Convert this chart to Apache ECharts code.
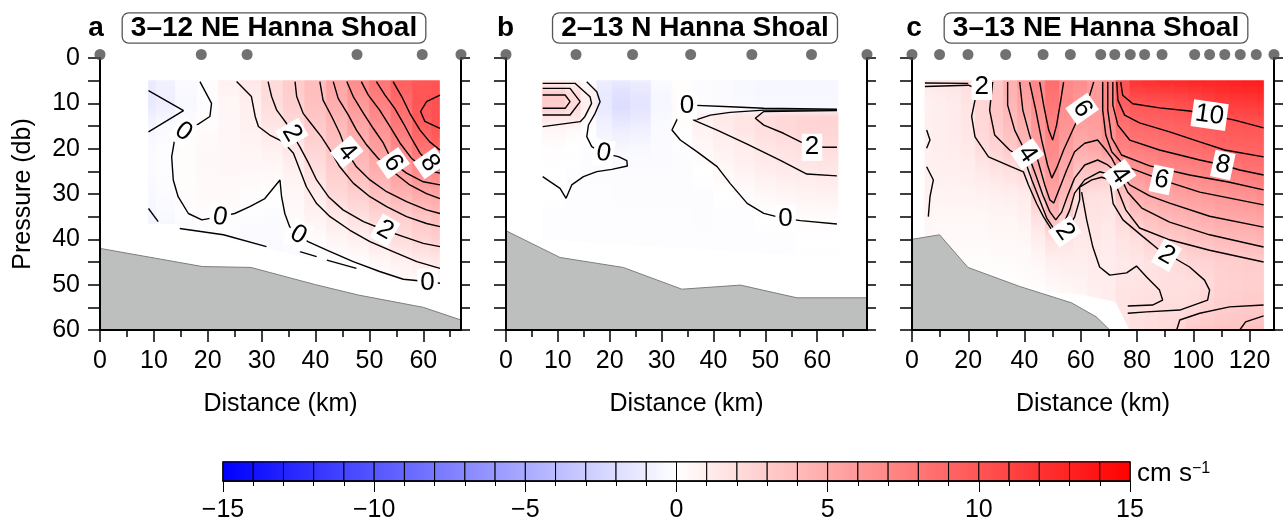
<!DOCTYPE html>
<html><head><meta charset="utf-8">
<script src="https://cdn.jsdelivr.net/npm/echarts@6/dist/echarts.min.js"></script>
<style>html,body{margin:0;padding:0;background:#fff}#c{width:1287px;height:523px}</style>
</head><body><div id="c"></div>
<script>
const FONT = '"Liberation Sans", Arial, Helvetica, sans-serif';

// ---------- panel titles ----------
const panelLetters = ['a', 'b', 'c'];
const panelTitles = ['3\u201312 NE Hanna Shoal', '2\u201313 N Hanna Shoal', '3\u201313 NE Hanna Shoal'];
const xMax = [67, 69.6, 128.7];
const xMajorTicksAB = [0, 10, 20, 30, 40, 50, 60];
const xMajorTicksC = [0, 20, 40, 60, 80, 100, 120];

// ---------- stations (km) ----------
const stationsA = [0, 18.8, 27.3, 47.7, 59.8, 67];
const stationsB = [0, 13.5, 24.4, 35.6, 47.4, 58.9, 69.6];
const stationsC = [0, 9.8, 19.9, 33.3, 46.6, 56.3, 67.1, 72.1, 77.6, 82.7, 88.9, 100.5, 105.8, 111.2, 116.7, 122.4, 128.7];

// ---------- bottom (km, db) ----------
const bathyA = [[0,42],[19,46],[28,46.2],[40,50],[48,52.3],[60,55],[67,57.8]];
const bathyB = [[0,38.1],[10.4,44],[22.6,46.2],[33.9,51],[45.2,50.1],[56.1,52.9],[69.6,52.9]];
const bathyC = [[0,40],[9.8,39],[19.9,46.2],[38.3,50.4],[56.7,54],[65.5,57.1],[70.3,60]];

// ---------- velocity field (cm/s), one row per column ----------
const fieldColsA = [9,12,16,20,24,28,32,36,40,44,48,52,56,60,63];
const fieldDepthsA = [5,10,15,20,25,30,35,40,45,50];
const fieldA = [
 [-1.2,-1.3,-0.6,-0.3,-0.3,-0.4,-0.6,-0.8,-0.8,-0.8],
 [-0.8,-1.0,-0.3,-0.1,-0.1,-0.2,-0.4,-0.7,-0.7,-0.7],
 [-0.3,-0.5,-0.1,0.2,0.2,0.2,-0.1,-0.5,-0.5,-0.5],
 [0.2,-0.1,0.2,0.4,0.4,0.3,0.1,-0.3,-0.4,-0.4],
 [0.8,0.5,0.5,0.5,0.5,0.3,0.1,-0.2,-0.4,-0.4],
 [1.4,0.95,0.8,0.6,0.4,0.2,-0.1,-0.3,-0.4,-0.4],
 [2.1,2.0,1.5,0.8,0.4,0.0,-0.2,-0.3,-0.4,-0.4],
 [3.0,2.8,2.2,1.4,0.8,0.5,0.3,-0.1,-0.3,-0.3],
 [3.8,3.7,3.1,2.5,1.8,1.2,0.7,0.2,-0.2,-0.3],
 [5.3,4.8,4.0,3.5,2.8,2.3,1.3,0.6,-0.1,-0.2],
 [6.8,6.0,5.2,4.5,3.9,2.8,1.8,0.9,0.1,-0.1],
 [8.2,7.4,6.4,5.6,4.7,3.7,2.4,1.5,0.5,-0.1],
 [9.4,8.7,7.8,6.8,5.7,4.5,2.9,2.0,0.8,0.1],
 [9.9,10.0,9.4,8.2,6.8,5.0,3.4,2.5,1.1,0.1],
 [10.0,10.3,10.2,9.0,7.4,5.3,3.8,2.8,1.3,0.3]
];
const fieldBottomA = [[9,36.5],[14.8,36.5],[14.8,37.2],[63,51.2]];

const fieldColsB = [7,10,13,16,19,22,26,30,34,38,42,46,50,54,58,62,64];
const fieldDepthsB = [5,8,11,13,16,20,25,30,35,40,45];
const fieldB = [
 [0.9,3.1,3.0,1.6,0.4,0.1,0,0,-0.1,-0.1,-0.1],
 [0.9,3.0,2.9,1.5,0.5,0.1,0,0,-0.1,-0.1,-0.1],
 [0.8,2.1,2.2,1.5,0.3,0,-0.1,-0.1,-0.1,-0.1,-0.1],
 [-0.1,0.8,0.9,0.4,0,-0.1,-0.2,-0.1,-0.1,-0.1,-0.1],
 [-1.0,-1.3,-1.3,-1.0,-0.7,-0.4,-0.2,-0.1,-0.1,-0.1,-0.1],
 [-1.3,-1.8,-2.0,-1.6,-1.0,-0.5,-0.2,-0.2,-0.1,-0.1,-0.1],
 [-1.0,-1.5,-1.6,-1.3,-0.8,-0.4,-0.2,-0.2,-0.1,-0.1,-0.1],
 [-0.3,-0.5,-0.5,-0.4,-0.3,-0.3,-0.2,-0.2,-0.1,-0.1,-0.1],
 [0.1,0.2,0.3,0.2,0.1,-0.1,-0.2,-0.2,-0.1,-0.1,-0.1],
 [-0.2,-0.2,-0.1,0.9,0.7,0.4,0,-0.2,-0.2,-0.1,-0.1],
 [-0.3,-0.3,-0.2,1.3,1.1,0.8,0.4,0,-0.1,-0.1,-0.1],
 [-0.4,-0.4,-0.3,1.6,1.5,1.1,0.7,0.2,-0.1,-0.1,-0.1],
 [-0.5,-0.5,-0.4,2.0,1.9,1.5,1.0,0.4,0,-0.1,-0.1],
 [-0.5,-0.5,-0.4,2.3,2.2,1.7,1.2,0.6,0.1,-0.1,-0.1],
 [-0.5,-0.5,-0.4,2.5,2.4,1.9,1.3,0.7,0.2,0,-0.1],
 [-0.5,-0.5,-0.4,2.6,2.5,2.0,1.4,0.8,0.2,0,-0.1],
 [-0.5,-0.5,-0.4,2.6,2.5,2.0,1.4,0.8,0.2,0,-0.1]
];
const fieldBottomB = [[7,40],[64,44]];

const fieldColsC = [4.6,10,15,20,25,30,35,40,45,50,55,60,65,70,75,80,85,90,95,100,105,110,115,120,125];
const fieldDepthsC = [5,10,15,20,25,30,35,40,45,50,55,60];
const fieldC = [
 [1.3,0.8,0.9,0.8,0.9,0.8,0.6,0.4,0.2,0.1,0,0],
 [1.5,1.0,1.0,1.0,0.9,0.7,0.5,0.3,0.2,0.1,0,0],
 [1.6,1.2,1.2,1.1,0.9,0.7,0.5,0.3,0.2,0.1,0,0],
 [1.9,1.6,1.5,1.3,1.0,0.7,0.5,0.3,0.2,0.1,0,0],
 [2.5,2.4,2.3,2.0,1.3,0.8,0.5,0.3,0.2,0.1,0,0],
 [3.3,3.3,3.1,2.5,1.6,0.9,0.6,0.4,0.2,0.1,0,0],
 [4.6,4.3,3.8,3.1,1.8,1.0,0.6,0.4,0.2,0.1,0,0],
 [5.9,5.3,4.6,4.1,2.2,1.2,0.8,0.5,0.3,0.1,0,0],
 [7.0,6.6,6.1,5.5,4.8,3.4,1.8,1.0,0.5,0.2,0.1,0],
 [8.6,8.0,7.4,6.9,6.2,5.3,4.0,1.8,0.9,0.4,0.2,0],
 [7.0,6.8,6.3,5.7,4.9,4.1,2.8,1.6,1.0,0.6,0.3,0.1],
 [6.7,6.2,5.6,4.8,3.5,2.1,1.6,1.3,1.0,0.7,0.4,0.2],
 [5.9,6.0,5.7,5.2,3.5,1.8,1.6,1.4,1.2,1.0,0.8,0.5],
 [7.0,7.0,6.6,6.0,3.2,1.8,1.4,1.2,1.1,1.1,1.0,0.8],
 [10.3,9.4,8.3,7.3,5.5,3.6,2.3,1.6,1.3,1.6,1.6,1.5],
 [12.0,10.0,8.8,7.7,6.1,4.8,3.4,1.9,1.5,1.6,1.8,1.8],
 [12.3,10.1,9.0,7.9,6.5,5.1,3.8,2.6,1.7,1.7,1.9,2.0],
 [12.5,10.2,9.2,8.2,7.0,5.4,4.2,3.0,2.0,1.8,2.0,2.2],
 [12.6,10.4,9.3,8.4,7.0,5.6,4.4,3.2,2.1,1.8,2.0,2.5],
 [12.8,10.6,9.5,8.6,7.1,5.8,4.6,3.5,2.4,1.9,2.1,3.2],
 [12.9,11.0,9.6,8.8,7.4,6.0,4.8,3.7,2.6,2.1,2.6,3.3],
 [13.0,11.4,9.8,9.0,7.7,6.2,5.1,4.0,2.8,2.6,2.9,3.4],
 [13.2,11.5,9.9,9.1,7.9,6.4,5.2,4.1,2.9,2.7,3.0,3.5],
 [13.3,11.6,10.0,9.2,8.1,6.5,5.3,4.2,3.0,2.8,3.1,3.6],
 [13.4,11.8,10.0,9.3,8.2,6.8,5.5,4.4,3.0,2.8,3.1,3.7]
];
const fieldBottomC = [[4.6,50],[60,52],[74,54],[76.2,54.5],[77.5,60],[128,60]];

// ---------- contour lines (km, db) ----------
const contoursA = [
 [[9,7.2],[15.5,11.6],[9,16.3]],
 [[18.55,5.2],[20.7,10.0],[20.4,12.9],[17.6,15.1],[15.5,16.25],[13.9,17.7],[13.3,21.8],[13.6,26.9],[14.5,30.6],[16.4,34.3],[18.9,35.7],[22.3,35.0],[25.0,34.3],[27.8,32.8],[30.6,31.0],[33.4,26.9],[33.7,30.6],[34.3,34.3],[35.2,37.2],[36.8,39.0],[38.6,40.5],[42.1,42.4],[47.0,44.9],[51.9,47.1],[56.3,48.8],[60.6,49.3],[63.1,49.7]],
 [[9,33.2],[10.8,36.1]],
 [[14.8,37.6],[22.9,39.0],[30.9,41.6]],
 [[37.1,42.7],[40.2,43.8]],
 [[42.1,44.6],[47.6,46.4]],
 [[25.35,5.2],[28.1,8.5],[28.8,12.9],[29.4,15.1],[31.5,17.0],[34.0,18.5],[35.9,21.0],[37.1,24.7],[38.3,28.4],[40.2,32.1],[42.7,35.0],[46.4,38.0],[50.1,40.5],[54.4,42.7],[58.8,44.9],[63.1,46.4]],
 [[31.2,5.2],[31.85,8.5],[32.8,11.5],[34.6,14.4],[35.6,16.6],[37.1,19.6],[38.7,23.2],[40.2,26.9],[42.4,30.6],[45.1,33.5],[48.9,36.1],[52.9,38.0],[56.3,39.4],[60.0,40.9],[63.1,41.6]],
 [[36.2,5.2],[36.5,8.5],[37.7,12.2],[39.6,15.1],[41.1,17.4],[42.7,20.3],[44.5,24.0],[47.0,27.6],[50.1,30.6],[53.2,32.8],[56.9,35.0],[60.6,36.5],[63.1,37.2]],
 [[40.8,5.2],[41.4,9.3],[43.0,12.9],[44.5,16.6],[45.8,20.7],[47.6,24.0],[50.1,26.9],[53.2,29.5],[56.9,31.7],[60.6,33.5],[63.1,34.3]],
 [[43.3,5.2],[44.2,8.9],[46.1,12.6],[47.6,15.9],[49.5,19.2],[51.6,22.1],[54.4,25.1],[57.5,28.0],[60.6,29.9],[63.1,31.0]],
 [[45.8,5.2],[47.0,8.5],[48.9,12.2],[50.7,15.5],[52.6,18.8],[54.4,23.2],[56.9,25.4],[60.0,27.3],[63.1,28.0]],
 [[48.5,5.2],[49.8,8.2],[51.9,11.5],[53.8,15.1],[55.7,18.8],[57.8,22.1],[60.6,24.7],[63.1,25.4]],
 [[51.3,5.2],[52.9,8.2],[54.7,11.1],[56.3,14.4],[57.8,17.7],[59.4,21.0],[61.2,23.2],[63.1,24.0]],
 [[54.4,5.2],[56.0,8.5],[57.5,12.2],[59.4,15.9],[61.2,18.5],[63.1,20.3]],
 [[63.1,8.2],[60.6,9.6],[59.5,11.8],[60.3,14.0],[63.1,15.5]]
];
const contoursB = [
 [[7.07,8.16],[11.4,8.16],[12.35,9.63],[11.4,11.1],[7.07,11.1]],
 [[7.07,6.69],[12.35,6.69],[14.3,9.63],[12.35,12.57],[7.07,12.57]],
 [[7.07,5.59],[13.3,5.59],[16.2,8.53],[16.5,10.0],[15.2,12.94],[14.3,14.04],[7.07,15.15]],
 [[15.57,5.22],[17.5,7.43],[18.14,9.63],[17.18,12.2],[15.9,14.78],[15.57,17.35],[16.53,19.56],[18.79,21.03],[21.68,21.76],[23.29,22.65],[23.4,23.82],[20.4,24.56],[17.5,25.07],[14.93,26.18],[12.67,28.0],[11.58,30.96],[10.42,28.75],[8.49,27.28],[7.07,26.18]],
 [[35.5,10.4],[43.2,10.74],[49.7,11.1],[63.8,11.32]],
 [[33.8,11.6],[32.0,15.88],[33.6,18.09],[36.8,20.66],[40.7,23.97],[43.2,27.65],[46.5,32.06],[49.7,34.26],[53.5,35.37],[56.8,35.88],[63.8,36.62]],
 [[35.6,11.8],[36.5,13.7],[39.4,12.6],[43.2,12.0],[49.7,11.5],[63.8,11.5]],
 [[35.8,12.6],[36.2,13.7],[40.7,15.9],[46.5,19.0],[52.9,22.6],[58.0,25.6],[63.8,26.0]],
 [[63.8,11.6],[49.7,11.8],[48.07,13.3],[49.7,14.8],[53.5,16.6],[56.8,18.5],[58.7,19.4],[61.3,19.7],[63.8,19.7]]
];
const contoursC = [
 [[4.6,5.5],[20.0,5.6]],
 [[4.6,6.3],[20.0,6.0],[22.4,6.6]],
 [[5.2,15.9],[6.4,18.1],[5.2,19.9]],
 [[5.2,24.0],[7.6,26.9],[6.4,30.6],[5.8,35.0]],
 [[22.4,7.0],[22.4,9.3],[21.2,12.9],[22.4,17.4],[27.2,21.8],[35.4,24.0],[39.6,25.1],[41.4,28.0],[44.3,32.1],[46.7,35.0],[49.7,37.9],[51.4,39.8],[53.2,39.9],[55.4,37.5],[57.8,35.1],[59.6,31.3],[59.6,28.5],[63.9,26.9],[67.4,26.3],[70.3,26.9],[71.5,32.1],[75.0,35.7],[82.1,39.4],[88.0,42.4],[90.5,43.5],[92.6,43.9],[98.7,46.1],[104.0,49.0],[105.8,51.2],[105.1,53.4],[95.2,55.6],[83.4,56.0],[76.7,56.3]],
 [[60.3,29.6],[62.1,35.7],[64.3,41.7],[66.7,46.1],[70.3,47.9],[76.3,47.4],[79.8,45.9],[83.4,48.3],[88.0,51.2],[89.1,53.4],[85.5,54.5],[76.7,54.7]],
 [[28.7,5.3],[27.6,11.5],[29.4,17.0],[34.7,20.3],[40.1,22.5],[42.6,26.9],[45.4,31.3],[47.9,35.3],[50.7,37.9],[53.2,37.5],[56.1,33.5],[57.8,29.8],[61.4,26.9],[66.7,25.1],[71.0,25.8],[73.2,29.1],[76.0,33.5],[80.9,37.5],[91.6,40.1],[105.8,42.4],[125,45.0]],
 [[34.0,5.3],[34.0,10.4],[36.5,15.9],[39.7,19.9],[41.8,22.1],[44.0,25.8],[46.5,30.2],[49.0,33.9],[51.1,35.7],[53.2,34.0],[55.4,30.2],[57.8,26.5],[61.4,23.6],[66.0,22.5],[69.6,23.6],[73.8,25.8],[76.7,29.6],[81.7,33.1],[91.6,36.2],[105.8,39.0],[125,41.7]],
 [[38.3,5.3],[39.4,11.5],[41.8,17.0],[44.7,22.5],[47.2,28.0],[49.0,31.3],[50.4,32.0],[52.5,28.7],[55.0,24.7],[57.8,20.7],[61.4,18.8],[66.0,18.1],[68.9,20.3],[71.0,22.1],[73.2,24.7],[77.4,28.0],[84.5,30.4],[91.6,32.0],[105.8,34.9],[125,37.3]],
 [[41.8,5.3],[44.0,11.5],[46.1,18.1],[48.2,23.6],[49.7,26.5],[51.4,24.3],[53.9,20.3],[57.5,15.4],[60.7,11.0],[63.2,8.2],[64.6,5.3]],
 [[67.8,5.3],[67.8,11.5],[68.9,17.0],[71.0,20.7],[75.6,23.8],[88.7,26.9],[102.3,29.6],[125,32.4]],
 [[45.4,5.3],[46.8,10.4],[48.6,15.9],[50.0,18.1],[51.4,14.8],[52.9,9.3],[53.9,5.3]],
 [[69.6,5.3],[69.6,11.5],[71.0,17.6],[74.5,21.4],[84.5,23.8],[98.7,25.8],[112.9,27.4],[125,29.1]],
 [[71.4,5.3],[71.4,10.4],[73.2,14.8],[77.4,18.1],[88.0,20.3],[102.3,22.5],[110.5,23.6],[116.5,24.7],[125,25.8]],
 [[72.8,5.3],[73.2,9.3],[75.6,12.6],[80.9,14.3],[91.6,16.3],[102.3,18.5],[111.2,20.3],[125,21.8]],
 [[74.2,5.3],[74.9,8.2],[78.5,10.1],[88.0,11.0],[98.7,11.7],[105.8,12.6],[114.7,13.7],[125,15.4]],
 [[94.1,60],[95.2,57.8],[102.3,56.3],[112.9,54.9],[125,54.5]],
 [[116.5,60],[118.6,58.2],[125,56.9]]
];

// ---------- contour labels: [km, db, angle in degrees] ----------
const labelPosA = [[15.5,16.3,-35],[22.3,35.1,-10],[36.8,39.0,-30],[60.8,49.5,0],[35.6,16.6,-60],[52.9,38.0,-30],[45.8,20.7,-50],[54.4,23.2,-55],[61.2,23.2,-55]];
const labelTextA = ['0','0','0','0','2','2','4','6','8'];
const labelPosB = [[34.9,10.6,0],[18.8,21.0,-10],[53.9,35.4,0],[59.0,19.7,0]];
const labelTextB = ['0','0','0','2'];
const labelPosC = [[24.8,6.3,0],[41.0,21.2,-55],[60.5,11.2,-55],[54.3,38.3,-55],[73.8,25.8,-55],[88.7,26.9,-12],[110.5,23.6,-12],[105.8,12.6,-8],[90.5,43.5,-30]];
const labelTextC = ['2','4','6','2','4','6','8','10','2'];

// ---------- colour bar ----------
const colorbarEdges = [-15,-14,-13,-12,-11,-10,-9,-8,-7,-6,-5,-4,-3,-2,-1,0,1,2,3,4,5,6,7,8,9,10,11,12,13,14,15];

function colorFor(v) {
  const t = Math.max(-1, Math.min(1, v / 15));
  if (t >= 0) { const g = Math.round(255 * (1 - t)); return 'rgb(255,' + g + ',' + g + ')'; }
  const g = Math.round(255 * (1 + t)); return 'rgb(' + g + ',' + g + ',255)';
}
function bottomAt(b, x) {
  if (x <= b[0][0]) return b[0][1];
  for (let k = 0; k < b.length - 1; k++) {
    const a = b[k], c = b[k + 1];
    if (c[0] > a[0] && x >= a[0] && x <= c[0]) return a[1] + (c[1] - a[1]) * (x - a[0]) / (c[0] - a[0]);
  }
  return b[b.length - 1][1];
}
function fieldSeries(gi, cols, depths, vals, bottom) {
  return {
    type: 'custom', xAxisIndex: gi, yAxisIndex: gi, z: 1, silent: true, clip: true,
    data: cols.map(x => [x, depths[0]]),
    renderItem(params, api) {
      const i = params.dataIndex, n = cols.length;
      const x0 = i === 0 ? cols[0] : (cols[i - 1] + cols[i]) / 2;
      const x1 = i === n - 1 ? cols[n - 1] : (cols[i] + cols[i + 1]) / 2;
      const d0 = depths[0], dn = depths[depths.length - 1];
      const pts = [api.coord([x0, d0]), api.coord([x1, d0]), api.coord([x1, bottomAt(bottom, x1)]), api.coord([x0, bottomAt(bottom, x0)])];
      const yT = api.coord([x0, d0])[1], yB = api.coord([x0, dn])[1];
      const stops = depths.map((d, k) => ({ offset: (d - d0) / (dn - d0), color: colorFor(vals[i][k]) }));
      const grad = new echarts.graphic.LinearGradient(0, yT, 0, yB, stops, true);
      return { type: 'polygon', shape: { points: pts }, style: { fill: grad, stroke: grad, lineWidth: 0.8 } };
    }
  };
}
function contourSeries(gi, lines) {
  return lines.map(pts => ({
    type: 'line', xAxisIndex: gi, yAxisIndex: gi, data: pts, symbol: 'none', silent: true, z: 4,
    lineStyle: { color: '#000', width: 1.4 }
  }));
}
function labelSeries(gi, pos, texts) {
  return {
    type: 'custom', xAxisIndex: gi, yAxisIndex: gi, z: 6, clip: false, silent: true,
    data: pos.map(p => [p[0], p[1]]),
    renderItem(params, api) {
      const p = api.coord([api.value(0), api.value(1)]);
      const r = pos[params.dataIndex][2];
      return { type: 'text', x: p[0], y: p[1], rotation: r * Math.PI / 180,
        style: { text: texts[params.dataIndex], font: '26px ' + FONT, fill: '#000', align: 'center', verticalAlign: 'middle',
                 backgroundColor: '#fff', padding: [1, 3, 0, 3] } };
    }
  };
}
function bathySeries(gi, data) {
  return { type: 'line', xAxisIndex: gi, yAxisIndex: gi, data, symbol: 'none', silent: true, z: 5,
    lineStyle: { color: '#7d7f7e', width: 1 }, areaStyle: { color: '#bdbfbe', opacity: 1, origin: 'end' } };
}
function stationSeries(gi, st) {
  return { type: 'scatter', xAxisIndex: gi, yAxisIndex: gi, data: st.map(x => [x, 0]), symbolSize: 11,
    symbolOffset: [0, -3.5], itemStyle: { color: '#4d4d4d' }, z: 20, clip: false, silent: true };
}
const AXIS_FS = 25;
function panelX(gi, max, interval, major) {
  return { gridIndex: gi, type: 'value', min: 0, max, interval, position: 'bottom', z: 10,
    axisLine: { show: true, onZero: false, lineStyle: { color: '#000', width: 2 } },
    axisTick: { show: true, length: 12, customValues: major, lineStyle: { color: '#000', width: 1.5 } },
    minorTick: { show: true, splitNumber: 2, length: 7, lineStyle: { color: '#000', width: 1.5 } },
    splitLine: { show: false }, minorSplitLine: { show: false },
    axisLabel: { customValues: major, fontSize: AXIS_FS, fontFamily: FONT, color: '#000', margin: 19 },
    name: 'Distance (km)', nameLocation: 'middle', nameGap: 62,
    nameTextStyle: { fontSize: AXIS_FS, fontFamily: FONT, color: '#000' } };
}
function panelYLeft(gi, labels) {
  return { gridIndex: gi, type: 'value', min: 0, max: 60, interval: 5, inverse: true, position: 'left', z: 10,
    axisLine: { show: true, onZero: false, lineStyle: { color: '#000', width: 2 } },
    axisTick: { show: true, length: 12, lineStyle: { color: '#000', width: 1.5 } },
    splitLine: { show: false },
    axisLabel: { show: labels, fontSize: AXIS_FS, fontFamily: FONT, color: '#000', margin: 20,
      formatter: v => (v % 10 === 0 ? String(v) : '') },
    name: labels ? 'Pressure (db)' : '', nameLocation: 'middle', nameGap: 64,
    nameTextStyle: { fontSize: AXIS_FS, fontFamily: FONT, color: '#000' } };
}
function panelYRight(gi) {
  return { gridIndex: gi, type: 'value', min: 0, max: 60, interval: 5, inverse: true, position: 'right', z: 10,
    axisLine: { show: true, onZero: false, lineStyle: { color: '#000', width: 2 } },
    axisTick: { show: true, length: 9, lineStyle: { color: '#000', width: 1.5 } },
    axisLabel: { show: false }, splitLine: { show: false } };
}

const chart = echarts.init(document.getElementById('c'), null, { renderer: 'canvas' });
const titleCenters = [274, 695, 1096];
const letterX = [96, 505.5, 914];
const graphics = [];
for (let i = 0; i < 3; i++) {
  graphics.push({ type: 'text', x: letterX[i], y: 28, style: { text: panelLetters[i], font: 'bold 28px ' + FONT, fill: '#000', align: 'center', verticalAlign: 'middle' } });
  graphics.push({ type: 'text', x: titleCenters[i], y: 28, style: { text: panelTitles[i], font: 'bold 28px ' + FONT, fill: '#000', align: 'center', verticalAlign: 'middle',
    backgroundColor: '#fff', borderColor: '#555', borderWidth: 1.3, borderRadius: 6, padding: [1, 8, 0, 8] } });
}
graphics.push({ type: 'text', x: 1137, y: 474, style: { text: '{m|cm s}{s|\u22121}', verticalAlign: 'middle',
  rich: { m: { fontSize: 26, fontFamily: FONT, fill: '#000' }, s: { fontSize: 16, fontFamily: FONT, fill: '#000', verticalAlign: 'top' } } } });

const series = [
  fieldSeries(0, fieldColsA, fieldDepthsA, fieldA, fieldBottomA),
  fieldSeries(1, fieldColsB, fieldDepthsB, fieldB, fieldBottomB),
  fieldSeries(2, fieldColsC, fieldDepthsC, fieldC, fieldBottomC),
  ...contourSeries(0, contoursA), ...contourSeries(1, contoursB), ...contourSeries(2, contoursC),
  labelSeries(0, labelPosA, labelTextA), labelSeries(1, labelPosB, labelTextB), labelSeries(2, labelPosC, labelTextC),
  bathySeries(0, bathyA), bathySeries(1, bathyB), bathySeries(2, bathyC),
  stationSeries(0, stationsA), stationSeries(1, stationsB), stationSeries(2, stationsC),
  { type: 'custom', xAxisIndex: 3, yAxisIndex: 6, z: 2, silent: true,
    data: colorbarEdges.slice(0, -1).map((v, i) => [v, colorbarEdges[i + 1]]),
    renderItem(params, api) {
      const a = api.coord([api.value(0), 1]), b = api.coord([api.value(1), 0]);
      return { type: 'rect', shape: { x: a[0], y: a[1], width: b[0] - a[0], height: b[1] - a[1] },
        style: { fill: new echarts.graphic.LinearGradient(0, 0, 1, 0, [{ offset: 0, color: colorFor(api.value(0)) }, { offset: 1, color: colorFor(api.value(1)) }]),
                 stroke: '#000', lineWidth: 1 } };
    } }
];

chart.setOption({
  animation: false,
  backgroundColor: '#fff',
  grid: [
    { left: 100, top: 58, width: 361, height: 272 },
    { left: 506, top: 58, width: 361, height: 272 },
    { left: 912, top: 58, width: 362, height: 272 },
    { left: 223, top: 462, width: 907, height: 20, show: true, borderColor: '#000', borderWidth: 1.5, backgroundColor: 'transparent' }
  ],
  xAxis: [
    panelX(0, xMax[0], 10, xMajorTicksAB),
    panelX(1, xMax[1], 10, xMajorTicksAB),
    panelX(2, xMax[2], 20, xMajorTicksC),
    { gridIndex: 3, type: 'value', min: -15, max: 15, interval: 5, position: 'bottom', z: 10,
      axisLine: { show: true, lineStyle: { color: '#000', width: 1.5 } },
      axisTick: { show: true, length: 11, lineStyle: { color: '#000', width: 1 } },
      minorTick: { show: true, splitNumber: 5, length: 5, lineStyle: { color: '#000', width: 1 } },
      splitLine: { show: false },
      axisLabel: { fontSize: 25, fontFamily: FONT, color: '#000', margin: 17, formatter: v => (v < 0 ? '\u2212' + Math.abs(v) : String(v)) } }
  ],
  yAxis: [
    panelYLeft(0, true), panelYLeft(1, false), panelYLeft(2, false),
    panelYRight(0), panelYRight(1), panelYRight(2),
    { gridIndex: 3, type: 'value', min: 0, max: 1, show: false }
  ],
  graphic: graphics,
  series
});
</script>
</body></html>
